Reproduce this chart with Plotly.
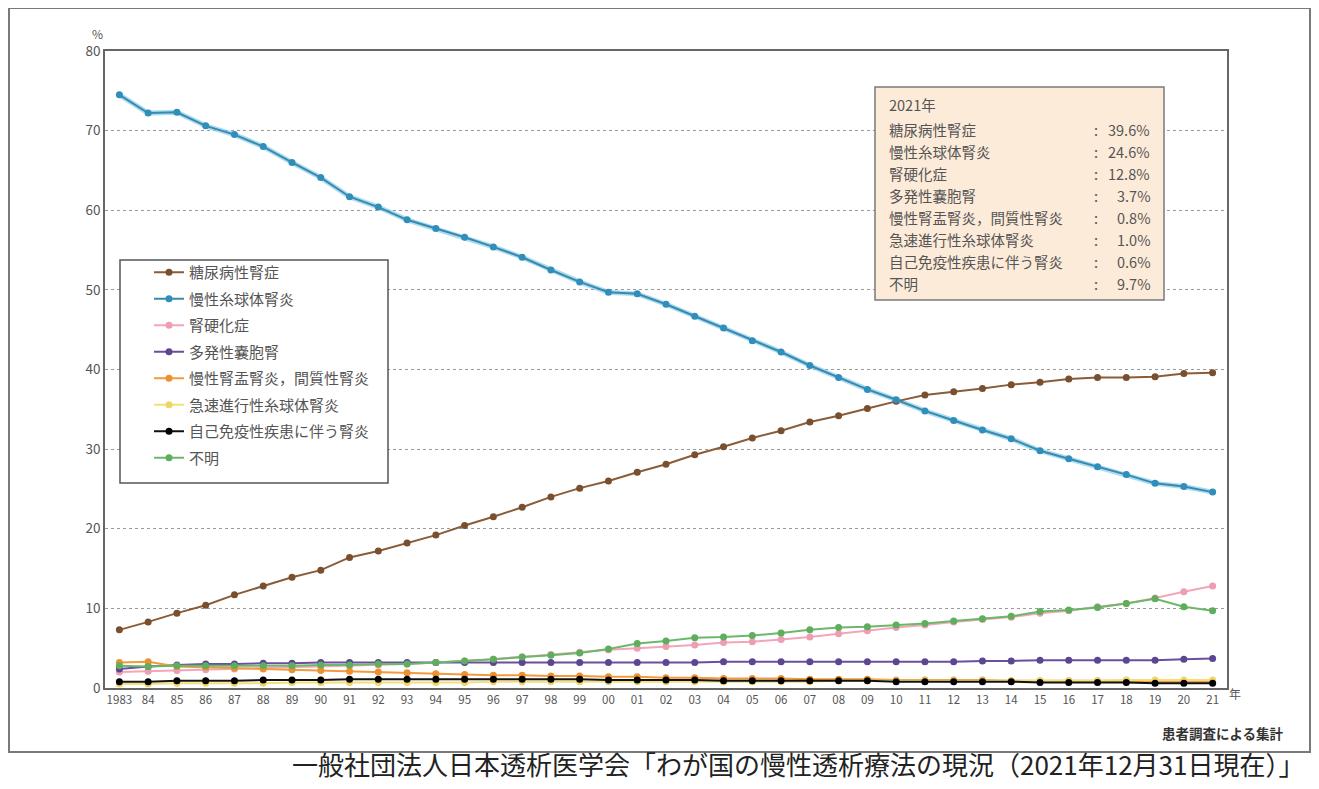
import plotly.graph_objects as go

# ---------------- data ----------------
years = list(range(1983, 2022))
year_labels = ["1983", "84", "85", "86", "87", "88", "89", "90", "91", "92", "93", "94", "95",
               "96", "97", "98", "99", "00", "01", "02", "03", "04", "05", "06", "07", "08",
               "09", "10", "11", "12", "13", "14", "15", "16", "17", "18", "19", "20", "21"]

diabetic = [7.3, 8.3, 9.4, 10.4, 11.7, 12.8, 13.9, 14.8, 16.4, 17.2, 18.2, 19.2, 20.4, 21.5,
            22.7, 24.0, 25.1, 26.0, 27.1, 28.1, 29.3, 30.3, 31.4, 32.3, 33.4, 34.2, 35.1, 36.0,
            36.8, 37.2, 37.6, 38.1, 38.4, 38.8, 39.0, 39.0, 39.1, 39.5, 39.6]
glomerulo = [74.5, 72.2, 72.3, 70.6, 69.5, 68.0, 66.0, 64.1, 61.7, 60.4, 58.8, 57.7, 56.6, 55.4,
             54.1, 52.5, 51.0, 49.7, 49.5, 48.2, 46.7, 45.2, 43.6, 42.2, 40.5, 39.0, 37.5, 36.2,
             34.8, 33.6, 32.4, 31.3, 29.8, 28.8, 27.8, 26.8, 25.7, 25.3, 24.6]
nephrosclerosis = [2.0, 2.1, 2.2, 2.3, 2.4, 2.5, 2.6, 2.7, 2.8, 2.9, 3.0, 3.2, 3.4, 3.6, 3.9,
                   4.2, 4.5, 4.8, 5.0, 5.2, 5.4, 5.7, 5.8, 6.1, 6.4, 6.8, 7.2, 7.6, 7.9, 8.3,
                   8.6, 8.9, 9.4, 9.7, 10.2, 10.6, 11.3, 12.1, 12.8]
polycystic = [2.4, 2.7, 2.9, 3.0, 3.0, 3.1, 3.1, 3.2, 3.2, 3.2, 3.2, 3.2, 3.2, 3.2, 3.2, 3.2,
              3.2, 3.2, 3.2, 3.2, 3.2, 3.3, 3.3, 3.3, 3.3, 3.3, 3.3, 3.3, 3.3, 3.3, 3.4, 3.4,
              3.5, 3.5, 3.5, 3.5, 3.5, 3.6, 3.7]
pyelonephritis = [3.2, 3.3, 2.7, 2.6, 2.5, 2.4, 2.3, 2.2, 2.1, 2.0, 1.9, 1.8, 1.7, 1.6, 1.6,
                  1.5, 1.5, 1.4, 1.4, 1.3, 1.3, 1.2, 1.2, 1.2, 1.1, 1.1, 1.1, 1.0, 1.0, 1.0,
                  1.0, 0.9, 0.9, 0.9, 0.9, 0.9, 0.8, 0.8, 0.8]
rpgn = [0.5, 0.5, 0.6, 0.6, 0.6, 0.6, 0.7, 0.7, 0.7, 0.7, 0.7, 0.7, 0.7, 0.8, 0.8, 0.8, 0.8,
        0.8, 0.8, 0.8, 0.8, 0.8, 0.8, 0.8, 0.8, 0.9, 0.9, 0.9, 0.9, 0.9, 0.9, 0.9, 0.9, 0.9,
        0.9, 1.0, 1.0, 1.0, 1.0]
autoimmune = [0.8, 0.8, 0.9, 0.9, 0.9, 1.0, 1.0, 1.0, 1.1, 1.1, 1.1, 1.1, 1.1, 1.1, 1.1, 1.1,
              1.1, 1.0, 1.0, 1.0, 1.0, 0.9, 0.9, 0.9, 0.9, 0.9, 0.9, 0.8, 0.8, 0.8, 0.8, 0.8,
              0.7, 0.7, 0.7, 0.7, 0.6, 0.6, 0.6]
unknown = [2.8, 2.7, 2.8, 2.8, 2.8, 2.8, 2.8, 2.9, 2.9, 3.0, 3.0, 3.2, 3.4, 3.6, 3.9, 4.1, 4.4,
           4.9, 5.6, 5.9, 6.3, 6.4, 6.6, 6.9, 7.3, 7.6, 7.7, 7.9, 8.1, 8.4, 8.7, 9.0, 9.6, 9.8,
           10.1, 10.6, 11.2, 10.2, 9.7]

series_names = ["糖尿病性腎症", "慢性糸球体腎炎", "腎硬化症", "多発性嚢胞腎",
                "慢性腎盂腎炎，間質性腎炎", "急速進行性糸球体腎炎", "自己免疫性疾患に伴う腎炎", "不明"]
series_values = [diabetic, glomerulo, nephrosclerosis, polycystic,
                 pyelonephritis, rpgn, autoimmune, unknown]

box_labels = ["2021年", "糖尿病性腎症", "慢性糸球体腎炎", "腎硬化症", "多発性嚢胞腎",
              "慢性腎盂腎炎，間質性腎炎", "急速進行性糸球体腎炎", "自己免疫性疾患に伴う腎炎", "不明"]
box_values = ["", "39.6%", "24.6%", "12.8%", "3.7%", "0.8%", "1.0%", "0.6%", "9.7%"]

# ---------------- style ----------------
FONT = "Noto Sans CJK JP"
line_colors = ["#8a5c38", "#3b88ad", "#f2a6b8", "#6a4f9c", "#f29a3c", "#f3df78", "#111111", "#6cb86a"]
marker_colors = ["#7a4f2e", "#2f8fba", "#ee9db2", "#5e4592", "#ee8f30", "#eed565", "#000000", "#5fae5e"]

# page body has an 8px margin; figure is sized to fit the window inside it
OFF = 8
W, H = 1319 - 2 * OFF, 789 - 2 * OFF
PLOT_L, PLOT_R, PLOT_T, PLOT_B = 105, 1227, 51, 688   # in screenshot pixels
L = PLOT_L - OFF
T = PLOT_T - OFF
R = W - (PLOT_R - OFF)
B = H - (PLOT_B - OFF)
PW, PH = PLOT_R - PLOT_L, PLOT_B - PLOT_T


def px_x(px):
    return (px - PLOT_L) / PW


def px_y(py):
    return (PLOT_B - py) / PH


fig = go.Figure()

# light halo under the blue line
fig.add_trace(go.Scatter(x=years, y=glomerulo, mode="lines",
                         line=dict(color="rgba(130,205,238,0.7)", width=5),
                         showlegend=False, hoverinfo="skip"))

for i, (name, vals) in enumerate(zip(series_names, series_values)):
    fig.add_trace(go.Scatter(
        x=years, y=vals, name=name, mode="lines+markers",
        line=dict(color=line_colors[i], width=2),
        marker=dict(color=marker_colors[i], size=7, symbol="circle"),
        legendgroup=f"g{i}", legendrank=i + 1,
    ))

shapes = []
# outer frame
shapes.append(dict(type="rect", xref="paper", yref="paper",
                   x0=px_x(9), x1=px_x(1310), y0=px_y(752), y1=px_y(8),
                   line=dict(color="#7a7a7a", width=2), fillcolor="rgba(0,0,0,0)", layer="below"))
# legend frame
shapes.append(dict(type="rect", xref="paper", yref="paper",
                   x0=px_x(120), x1=px_x(388), y0=px_y(483), y1=px_y(260),
                   line=dict(color="#555", width=1.5), fillcolor="white", layer="above"))
# info box
shapes.append(dict(type="rect", xref="paper", yref="paper",
                   x0=px_x(875), x1=px_x(1164), y0=px_y(300), y1=px_y(87),
                   line=dict(color="#7a7a7a", width=1.5), fillcolor="#fdebd9", layer="above"))

BOX_FONT = dict(family=FONT, size=14.5, color="#555")
annotations = []
row_y = [104, 129, 151, 173, 195, 217, 239, 261, 283]
for lab, val, py in zip(box_labels, box_values, row_y):
    annotations.append(dict(xref="paper", yref="paper", x=px_x(887), y=px_y(py),
                            xanchor="left", yanchor="middle", showarrow=False, text=lab,
                            font=BOX_FONT))
    if val:
        annotations.append(dict(xref="paper", yref="paper", x=px_x(1096), y=px_y(py),
                                xanchor="center", yanchor="middle", showarrow=False, text=":",
                                font=BOX_FONT))
        annotations.append(dict(xref="paper", yref="paper", x=px_x(1152), y=px_y(py),
                                xanchor="right", yanchor="middle", showarrow=False, text=val,
                                font=BOX_FONT))

annotations += [
    dict(xref="paper", yref="paper", x=px_x(97), y=px_y(33), xanchor="center", yanchor="middle",
         showarrow=False, text="%", font=dict(family=FONT, size=12, color="#555")),
    dict(xref="paper", yref="paper", x=px_x(1227), y=px_y(693), xanchor="left", yanchor="middle",
         showarrow=False, text="年", font=dict(family=FONT, size=12, color="#555")),
    dict(xref="paper", yref="paper", x=px_x(1286), y=px_y(733), xanchor="right", yanchor="middle",
         showarrow=False, text="<b>患者調査による集計</b>", font=dict(family=FONT, size=13.5, color="#333")),
    dict(xref="paper", yref="paper", x=px_x(1306), y=px_y(764), xanchor="right", yanchor="middle",
         showarrow=False, text="一般社団法人日本透析医学会「わが国の慢性透析療法の現況（2021年12月31日現在）」",
         font=dict(family=FONT, size=26, color="#222")),
]

fig.update_layout(
    width=W, height=H,
    margin=dict(l=L, r=R, t=T, b=B),
    paper_bgcolor="white", plot_bgcolor="white",
    font=dict(family=FONT, color="#555"),
    showlegend=True,
    legend=dict(x=px_x(149), y=px_y(256), xanchor="left", yanchor="top",
                bgcolor="rgba(0,0,0,0)", borderwidth=0,
                font=dict(family=FONT, size=15, color="#555"),
                tracegroupgap=4, traceorder="grouped"),
    shapes=shapes,
    annotations=annotations,
    xaxis=dict(range=[1982.5, 2021.5], tickmode="array", tickvals=years, ticktext=year_labels,
               showgrid=False, zeroline=False, showline=True, linecolor="#666", linewidth=1.5,
               mirror=True, tickfont=dict(family=FONT, size=11.5, color="#555"), ticks=""),
    yaxis=dict(range=[0, 80], dtick=10, showgrid=True, gridcolor="#9a9a9a", griddash="dot",
               gridwidth=1, zeroline=False, showline=True, linecolor="#666", linewidth=1.5,
               mirror=True, tickfont=dict(family=FONT, size=13.5, color="#555"), ticks=""),
)

fig.write_html("out.html")
